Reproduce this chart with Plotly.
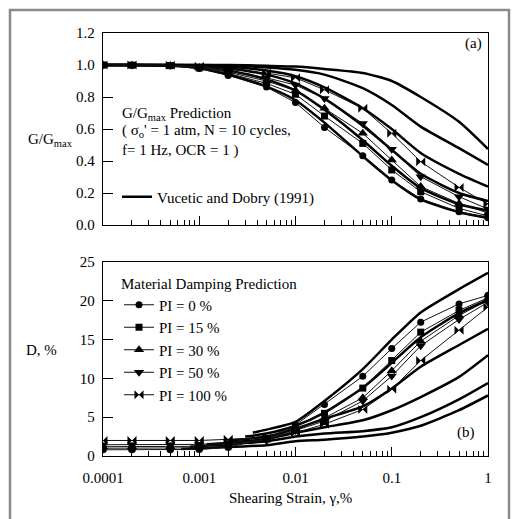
import plotly.graph_objects as go

FONT = "Liberation Serif"
W, H = 515, 519
ML, MR, MT, MB = 103, 27, 33, 63

# shearing strain (%) at which the predictions are evaluated
strain = [0.0001, 0.0002, 0.0005, 0.001, 0.002, 0.005, 0.01, 0.02, 0.05, 0.1, 0.2, 0.5, 1]

pi_labels = ["PI = 0 %", "PI = 15 %", "PI = 30 %", "PI = 50 %", "PI = 100 %"]
pi_symbols = ["circle", "square", "triangle-up", "triangle-down", "bowtie"]

# predicted modulus reduction G/Gmax
ggmax_pi0 = [1.0, 0.999, 0.995, 0.978, 0.935, 0.862, 0.765, 0.61, 0.433, 0.281, 0.163, 0.083, 0.046]
ggmax_pi15 = [1.0, 0.999, 0.996, 0.982, 0.948, 0.885, 0.817, 0.681, 0.51, 0.344, 0.208, 0.104, 0.056]
ggmax_pi30 = [1.0, 0.999, 0.997, 0.985, 0.955, 0.90, 0.84, 0.729, 0.573, 0.406, 0.24, 0.135, 0.075]
ggmax_pi50 = [1.0, 1.0, 0.998, 0.988, 0.965, 0.92, 0.875, 0.79, 0.635, 0.473, 0.302, 0.177, 0.10]
ggmax_pi100 = [1.0, 1.0, 0.999, 0.992, 0.975, 0.95, 0.92, 0.845, 0.729, 0.573, 0.396, 0.235, 0.131]

# predicted material damping D (%)
damp_pi0 = [0.8, 0.8, 0.8, 0.85, 1.1, 2.3, 4.0, 6.65, 10.27, 13.85, 17.25, 19.6, 20.7]
damp_pi15 = [1.0, 1.0, 1.0, 1.05, 1.3, 2.2, 3.8, 5.5, 8.75, 12.3, 15.96, 18.75, 20.4]
damp_pi30 = [1.2, 1.2, 1.2, 1.25, 1.5, 2.1, 3.5, 4.9, 7.5, 11.0, 14.8, 18.1, 20.1]
damp_pi50 = [1.45, 1.45, 1.45, 1.5, 1.7, 2.0, 3.3, 4.5, 7.1, 10.3, 14.2, 17.6, 19.8]
damp_pi100 = [2.0, 2.0, 2.0, 2.0, 2.15, 2.3, 3.0, 4.1, 6.0, 8.6, 12.3, 16.2, 19.2]

# Vucetic and Dobry (1991) modulus reduction curves, PI = 0, 15, 30, 50, 100, 200
vd_g_pi0 = [1.0, 1.0, 0.995, 0.98, 0.94, 0.865, 0.78, 0.64, 0.43, 0.28, 0.16, 0.08, 0.045]
vd_g_pi15 = [1.0, 1.0, 0.998, 0.99, 0.965, 0.91, 0.84, 0.72, 0.53, 0.37, 0.23, 0.13, 0.09]
vd_g_pi30 = [1.0, 1.0, 0.999, 0.995, 0.98, 0.94, 0.885, 0.79, 0.62, 0.47, 0.32, 0.20, 0.15]
vd_g_pi50 = [1.0, 1.0, 1.0, 0.998, 0.99, 0.965, 0.93, 0.86, 0.73, 0.60, 0.45, 0.32, 0.24]
vd_g_pi100 = [1.0, 1.0, 1.0, 1.0, 0.995, 0.985, 0.97, 0.94, 0.855, 0.75, 0.615, 0.48, 0.375]
vd_g_pi200 = [1.0, 1.0, 1.0, 1.0, 1.0, 0.995, 0.99, 0.975, 0.95, 0.90, 0.80, 0.645, 0.475]

# Vucetic and Dobry (1991) damping curves (strain, D) for PI = 0 ... 200
vd_d_pi0_strain = [0.0036, 0.005, 0.01, 0.02, 0.05, 0.1, 0.2, 0.5, 1]
vd_d_pi0 = [3.0, 3.4, 4.4, 7.1, 11.2, 15.0, 18.5, 21.5, 23.6]
vd_d_pi15_strain = [0.003, 0.005, 0.01, 0.02, 0.05, 0.1, 0.2, 0.5, 1]
vd_d_pi15 = [2.5, 2.9, 3.9, 5.6, 8.8, 12.0, 15.3, 18.4, 20.1]
vd_d_pi30_strain = [0.002, 0.005, 0.01, 0.02, 0.05, 0.1, 0.2, 0.5, 1]
vd_d_pi30 = [2.0, 2.5, 3.5, 4.8, 6.4, 8.7, 11.5, 14.3, 16.4]
vd_d_pi50_strain = [0.0012, 0.005, 0.01, 0.02, 0.05, 0.1, 0.2, 0.5, 1]
vd_d_pi50 = [1.5, 2.2, 3.0, 3.7, 4.6, 5.9, 7.6, 10.2, 13.0]
vd_d_pi100_strain = [0.0008, 0.005, 0.01, 0.02, 0.05, 0.1, 0.2, 0.5, 1]
vd_d_pi100 = [1.2, 1.9, 2.5, 2.9, 3.2, 3.7, 5.0, 7.3, 9.4]
vd_d_pi200_strain = [0.00065, 0.005, 0.01, 0.02, 0.05, 0.1, 0.2, 0.5, 1]
vd_d_pi200 = [0.9, 1.4, 1.9, 2.1, 2.5, 3.0, 3.9, 5.9, 7.8]

x_tickvals = [0.0001, 0.001, 0.01, 0.1, 1]
x_ticktext = ["0.0001", "0.001", "0.01", "0.1", "1"]


def xp(px):
    return (px - ML) / (W - ML - MR)


def yp(py):
    return (H - MB - py) / (H - MT - MB)


ggmax_pred = [ggmax_pi0, ggmax_pi15, ggmax_pi30, ggmax_pi50, ggmax_pi100]
damp_pred = [damp_pi0, damp_pi15, damp_pi30, damp_pi50, damp_pi100]
vd_g = [vd_g_pi0, vd_g_pi15, vd_g_pi30, vd_g_pi50, vd_g_pi100, vd_g_pi200]
vd_d = [(vd_d_pi0_strain, vd_d_pi0), (vd_d_pi15_strain, vd_d_pi15),
        (vd_d_pi30_strain, vd_d_pi30), (vd_d_pi50_strain, vd_d_pi50),
        (vd_d_pi100_strain, vd_d_pi100), (vd_d_pi200_strain, vd_d_pi200)]

fig = go.Figure()

thick = dict(color="black", width=2.5, shape="spline", smoothing=0.6)
thin = dict(color="#111111", width=1)

# reference curves (thick)
for i, g in enumerate(vd_g):
    fig.add_trace(go.Scatter(
        x=strain, y=g, mode="lines", line=thick, xaxis="x", yaxis="y",
        name="Vucetic and Dobry (1991)", legend="legend2", showlegend=(i == 0),
        hoverinfo="skip"))
for sx, d in vd_d:
    fig.add_trace(go.Scatter(
        x=sx, y=d, mode="lines", line=thick, xaxis="x2", yaxis="y2",
        showlegend=False, hoverinfo="skip"))

# predictions (markers)
for g, lab, sym in zip(ggmax_pred, pi_labels, pi_symbols):
    size = 9 if sym in ("triangle-up", "triangle-down", "bowtie") else 7
    fig.add_trace(go.Scatter(
        x=strain, y=g, mode="lines+markers", line=thin,
        marker=dict(symbol=sym, size=size, color="black"),
        xaxis="x", yaxis="y", showlegend=False, name=lab))
for d, lab, sym in zip(damp_pred, pi_labels, pi_symbols):
    size = 9 if sym in ("triangle-up", "triangle-down", "bowtie") else 7
    fig.add_trace(go.Scatter(
        x=strain, y=d, mode="lines+markers", line=thin,
        marker=dict(symbol=sym, size=size, color="black"),
        xaxis="x2", yaxis="y2", name=lab, legend="legend"))

minor_vals = [m * 10 ** e for e in range(-4, 0) for m in range(2, 10)]
xcommon = dict(
    type="log", range=[-4, 0], tickmode="array", tickvals=x_tickvals,
    ticks="inside", ticklen=9, tickwidth=1, tickcolor="black",
    minor=dict(tickmode="array", tickvals=minor_vals, ticks="inside",
               ticklen=5, tickwidth=1, tickcolor="black", showgrid=False),
    showline=True, mirror=True, linecolor="black", linewidth=1.3,
    showgrid=False, zeroline=False,
    tickfont=dict(family=FONT, size=15, color="black"))
ycommon = dict(
    ticks="inside", ticklen=10, tickwidth=1, tickcolor="black",
    showline=True, mirror=True, linecolor="black", linewidth=1.3,
    showgrid=False, zeroline=False, ticklabelstandoff=4,
    tickfont=dict(family=FONT, size=15, color="black"))

fig.update_layout(
    width=W, height=H,
    margin=dict(l=ML, r=MR, t=MT, b=MB),
    paper_bgcolor="white", plot_bgcolor="white",
    font=dict(family=FONT, size=15, color="black"),
    xaxis=dict(xcommon, anchor="y", showticklabels=False),
    yaxis=dict(ycommon, domain=[yp(225), 1], range=[0, 1.2], dtick=0.2, tickformat=".1f"),
    xaxis2=dict(xcommon, anchor="y2", ticktext=x_ticktext, ticklabelstandoff=8),
    yaxis2=dict(ycommon, domain=[0, yp(262)], range=[0, 25], dtick=5),
    legend=dict(
        x=xp(119), y=yp(269), xanchor="left", yanchor="top",
        bgcolor="rgba(0,0,0,0)", borderwidth=0, tracegroupgap=0,
        font=dict(family=FONT, size=15, color="black"),
        title=dict(text="Material Damping Prediction", side="top",
                   font=dict(family=FONT, size=15, color="black"))),
    legend2=dict(
        x=xp(117), y=yp(197), xanchor="left", yanchor="middle",
        bgcolor="rgba(0,0,0,0)", borderwidth=0,
        font=dict(family=FONT, size=15, color="black")),
    showlegend=True,
)

ann = [
    dict(text="(a)", x=xp(473), y=yp(43)),
    dict(text="(b)", x=xp(466), y=yp(432)),
    dict(text="G/G<sub>max</sub>", x=xp(50), y=yp(140)),
    dict(text="D, %", x=xp(41), y=yp(350)),
    dict(text="Shearing Strain, γ,%", x=xp(290), y=yp(498)),
    dict(text="G/G<sub>max</sub> Prediction", x=xp(120), y=yp(114), xanchor="left"),
    dict(text="( σ<sub>o</sub>' = 1 atm, N = 10 cycles,", x=xp(120), y=yp(131), xanchor="left"),
    dict(text="f= 1 Hz, OCR = 1 )", x=xp(120), y=yp(150), xanchor="left"),
]
for a in ann:
    a.setdefault("xanchor", "center")
    fig.add_annotation(xref="paper", yref="paper", showarrow=False, yanchor="middle",
                       font=dict(family=FONT, size=15, color="black"), **a)

# outer frame around the figure
fig.add_shape(type="rect", xref="paper", yref="paper",
              x0=xp(10), x1=xp(509), y0=yp(530), y1=yp(10),
              line=dict(color="#8a8a8a", width=2.5), fillcolor="rgba(0,0,0,0)", layer="below")

fig.write_html("out.html")
